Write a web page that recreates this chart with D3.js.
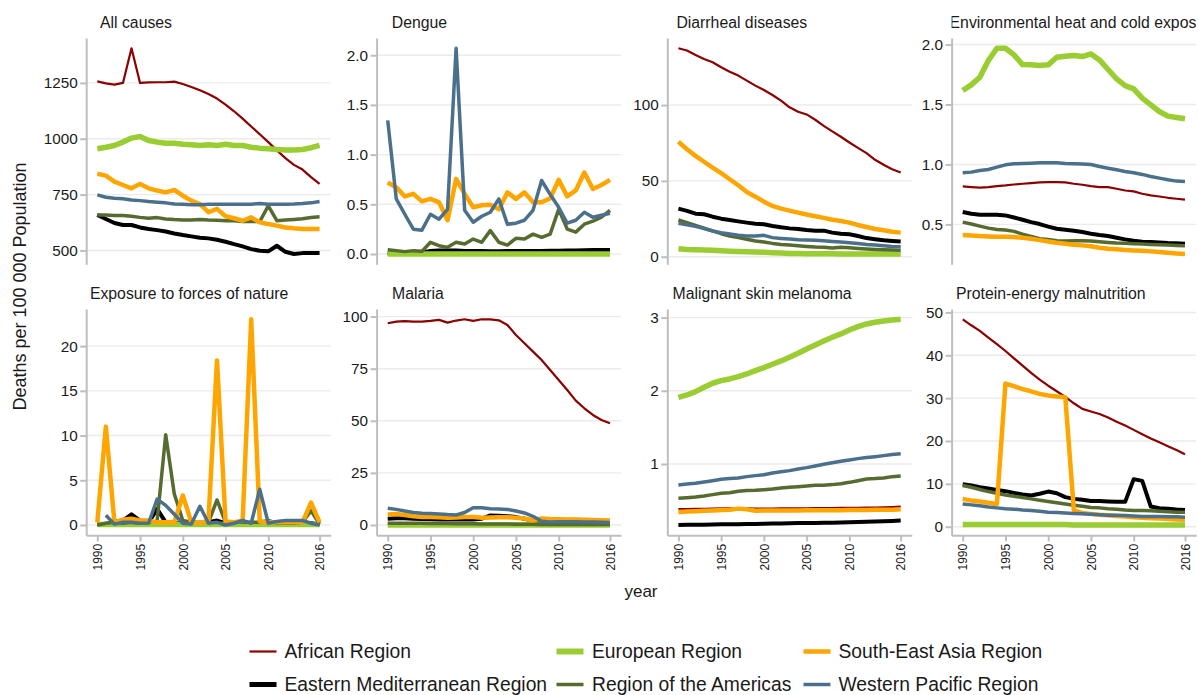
<!DOCTYPE html>
<html><head><meta charset="utf-8">
<script src="https://cdn.jsdelivr.net/npm/d3@7"></script>
<style>
body{margin:0;background:#fff}
text{font-family:"Liberation Sans",Arial,sans-serif}
</style>
</head><body>
<svg id="chart" width="1198" height="695"></svg>
<script>
// ---------- data ----------
const years = [1990,1991,1992,1993,1994,1995,1996,1997,1998,1999,2000,2001,2002,2003,2004,2005,2006,2007,2008,2009,2010,2011,2012,2013,2014,2015,2016];
const regions = ["African Region","Eastern Mediterranean Region","European Region","Region of the Americas","South-East Asia Region","Western Pacific Region"];
const causes = ["All causes","Dengue","Diarrheal diseases","Environmental heat and cold exposure","Exposure to forces of nature","Malaria","Malignant skin melanoma","Protein-energy malnutrition"];
const xTicks = [1990,1995,2000,2005,2010,2016];

const allCauses = {
  "African Region":[1257,1248,1242,1250,1405,1250,1252,1253,1253,1256,1245,1232,1217,1200,1180,1153,1123,1090,1055,1020,985,948,913,883,862,828,798],
  "Eastern Mediterranean Region":[659,641,623,614,614,603,596,591,585,576,569,563,557,554,548,539,528,518,506,499,496,521,494,484,488,488,488],
  "European Region":[955,962,970,985,1003,1010,992,985,980,980,975,973,970,973,970,975,970,970,962,958,955,952,950,950,952,960,970],
  "Region of the Americas":[659,659,656,656,653,648,644,647,641,638,636,636,638,636,635,633,633,630,629,629,700,633,636,639,642,647,651],
  "South-East Asia Region":[843,835,808,793,778,798,778,768,760,771,745,723,708,671,686,653,644,633,648,626,618,611,603,599,596,596,596],
  "Western Pacific Region":[749,738,734,731,726,723,719,716,713,708,707,705,705,707,707,707,707,707,707,710,707,707,707,708,710,713,719]
};
const dengue = {
  "African Region":[0.002,0.002,0.002,0.002,0.002,0.002,0.003,0.003,0.003,0.004,0.004,0.005,0.006,0.007,0.008,0.01,0.012,0.015,0.018,0.02,0.022,0.025,0.028,0.03,0.035,0.04,0.045],
  "Eastern Mediterranean Region":[0.005,0.006,0.008,0.01,0.015,0.03,0.035,0.035,0.035,0.03,0.03,0.03,0.028,0.028,0.03,0.03,0.03,0.03,0.03,0.032,0.032,0.035,0.035,0.038,0.04,0.04,0.04],
  "European Region":[0,0,0,0,0,0,0,0,0,0,0,0,0,0,0,0,0,0,0,0,0,0,0,0,0,0,0],
  "Region of the Americas":[0.044,0.034,0.024,0.034,0.027,0.118,0.084,0.067,0.118,0.10,0.15,0.118,0.235,0.118,0.09,0.158,0.15,0.20,0.168,0.20,0.45,0.25,0.22,0.30,0.33,0.37,0.44],
  "South-East Asia Region":[0.72,0.67,0.58,0.605,0.53,0.555,0.52,0.34,0.756,0.605,0.47,0.49,0.495,0.45,0.62,0.555,0.62,0.52,0.52,0.56,0.746,0.58,0.64,0.82,0.655,0.695,0.746],
  "Western Pacific Region":[1.345,0.555,0.40,0.25,0.24,0.40,0.35,0.45,2.07,0.44,0.32,0.38,0.42,0.555,0.30,0.31,0.34,0.44,0.74,0.60,0.47,0.31,0.34,0.42,0.37,0.39,0.41]
};
const diarrheal = {
  "African Region":[137.4,135.9,133.0,130.4,128.2,124.9,122.0,119.4,116.1,112.8,109.9,106.6,102.9,98.5,95.6,93.8,90.3,86.3,82.6,79.1,75.3,71.8,68.3,63.9,60.6,57.7,55.5],
  "Eastern Mediterranean Region":[31.7,30.2,28.4,28.0,26.4,25.1,24.2,23.3,22.5,21.8,21.4,20.3,19.4,18.7,18.3,17.6,17.2,17.2,15.9,15.2,14.8,13.7,12.3,11.5,10.8,10.4,10.1],
  "European Region":[5.3,4.8,4.6,4.4,4.2,4.0,3.7,3.5,3.3,3.1,2.9,2.6,2.4,2.2,2.2,2.0,2.0,2.0,2.0,1.8,1.8,1.8,1.8,1.8,1.8,1.8,1.8],
  "Region of the Americas":[24.2,22.5,20.7,18.9,17.0,15.2,13.7,12.6,11.5,10.4,9.7,8.8,8.1,7.7,7.3,6.8,6.4,6.2,5.7,6.2,5.9,5.5,5.1,4.8,4.6,4.4,4.2],
  "South-East Asia Region":[75.8,70.9,66.5,62.6,58.8,55.1,51.1,47.1,42.7,39.6,36.3,33.5,31.7,30.4,29.1,27.8,26.7,25.6,24.4,23.6,22.5,20.9,19.6,18.3,17.4,16.5,15.9],
  "Western Pacific Region":[22.0,21.1,20.0,18.5,17.0,15.9,15.0,14.1,13.7,13.7,14.1,12.6,12.1,11.7,11.2,11.0,10.8,10.6,10.1,9.7,9.3,8.8,8.1,7.7,7.3,6.8,6.6]
};
const heatCold = {
  "African Region":[0.817,0.811,0.806,0.811,0.819,0.825,0.833,0.839,0.844,0.85,0.853,0.853,0.85,0.839,0.831,0.819,0.811,0.811,0.797,0.783,0.775,0.756,0.742,0.733,0.722,0.714,0.706],
  "Eastern Mediterranean Region":[0.603,0.589,0.581,0.581,0.581,0.575,0.558,0.539,0.519,0.503,0.481,0.464,0.456,0.447,0.436,0.422,0.411,0.403,0.389,0.375,0.364,0.356,0.353,0.35,0.344,0.342,0.339],
  "European Region":[1.617,1.664,1.728,1.867,1.969,1.969,1.914,1.833,1.831,1.825,1.831,1.894,1.903,1.908,1.90,1.922,1.872,1.792,1.714,1.658,1.631,1.553,1.497,1.442,1.403,1.392,1.381],
  "Region of the Americas":[0.519,0.503,0.486,0.469,0.458,0.453,0.442,0.419,0.4,0.381,0.375,0.364,0.361,0.364,0.364,0.361,0.356,0.35,0.344,0.342,0.339,0.336,0.333,0.331,0.328,0.325,0.322],
  "South-East Asia Region":[0.411,0.408,0.403,0.4,0.397,0.397,0.394,0.389,0.381,0.369,0.358,0.347,0.339,0.331,0.325,0.317,0.306,0.297,0.292,0.286,0.283,0.281,0.275,0.269,0.264,0.258,0.253],
  "Western Pacific Region":[0.93,0.936,0.95,0.958,0.978,0.997,1.006,1.008,1.011,1.014,1.014,1.014,1.008,1.006,1.003,1.0,0.983,0.969,0.956,0.942,0.931,0.917,0.9,0.886,0.872,0.861,0.858]
};
const forcesNature = {
  "African Region":[0.05,0.08,0.2,0.06,0.05,0.04,0.05,0.06,0.05,0.05,0.04,0.04,0.05,0.05,0.04,0.04,0.05,0.04,0.04,0.04,0.05,0.04,0.04,0.04,0.04,0.04,0.04],
  "Eastern Mediterranean Region":[0.1,0.1,0.4,0.5,1.2,0.5,0.3,1.8,0.3,0.2,0.2,0.2,0.2,0.3,0.5,0.2,0.2,0.3,0.2,0.2,0.2,0.2,0.2,0.2,0.2,0.2,0.1],
  "European Region":[0.05,0.06,0.05,0.05,0.05,0.06,0.05,0.05,0.05,0.05,0.05,0.05,0.06,0.05,0.05,0.05,0.05,0.05,0.05,0.05,0.06,0.05,0.05,0.05,0.05,0.05,0.05],
  "Region of the Americas":[0.0,0.2,0.3,0.2,0.3,0.2,0.3,0.5,10.1,3.5,0.5,0.3,0.3,0.3,2.8,0.3,0.3,0.3,0.3,0.3,0.5,0.2,0.2,0.2,0.3,1.6,0.1],
  "South-East Asia Region":[0.3,11.0,0.3,0.6,0.7,0.5,0.5,0.3,0.3,0.3,3.3,0.3,0.2,0.5,18.4,0.4,0.3,0.5,23.0,0.4,0.3,0.3,0.3,0.3,0.3,2.5,0.3],
  "Western Pacific Region":[null,1.1,0.1,0.3,0.3,0.2,0.2,2.9,2.2,1.2,0.2,0.1,2.1,0.2,0.3,0.0,0.2,0.5,0.2,4.0,0.2,0.4,0.5,0.5,0.5,0.2,0.0]
};
const malaria = {
  "African Region":[96.8,97.6,97.8,97.6,97.6,97.9,98.4,97.1,98.1,98.7,97.9,98.7,98.7,98.2,96.0,91.2,87.2,83.2,79.2,74.4,69.6,64.8,59.7,56.0,52.8,50.4,48.8],
  "Eastern Mediterranean Region":[3.0,3.2,3.2,3.0,2.9,2.8,2.7,2.7,2.6,2.6,2.7,3.0,4.6,4.5,4.2,3.8,3.0,2.0,1.5,1.3,1.2,1.2,1.1,1.0,1.0,1.0,0.9],
  "European Region":[0,0,0,0,0,0,0,0,0,0,0,0,0,0,0,0,0,0,0,0,0,0,0,0,0,0,0],
  "Region of the Americas":[0.9,0.9,0.8,0.8,0.8,0.7,0.7,0.7,0.6,0.6,0.6,0.5,0.5,0.5,0.5,0.4,0.4,0.4,0.3,0.3,0.3,0.3,0.2,0.2,0.2,0.2,0.2],
  "South-East Asia Region":[5.0,5.3,4.8,4.2,3.9,3.8,3.7,3.5,3.6,3.9,3.8,3.5,3.6,3.7,3.7,3.5,3.1,2.2,3.1,2.9,2.8,2.7,2.6,2.5,2.4,2.3,2.2],
  "Western Pacific Region":[8.0,7.5,6.7,6.0,5.6,5.5,5.3,5.0,4.8,6.0,8.3,8.3,7.8,7.7,7.5,6.7,5.8,4.2,1.8,1.5,1.6,1.6,1.6,1.5,1.4,1.3,1.2]
};
const melanoma = {
  "African Region":[0.385,0.385,0.386,0.388,0.39,0.392,0.393,0.393,0.392,0.39,0.39,0.391,0.392,0.393,0.394,0.395,0.396,0.397,0.398,0.399,0.4,0.401,0.403,0.405,0.408,0.412,0.417],
  "Eastern Mediterranean Region":[0.166,0.168,0.169,0.170,0.172,0.175,0.176,0.178,0.180,0.181,0.183,0.186,0.188,0.190,0.192,0.194,0.195,0.197,0.198,0.200,0.203,0.206,0.209,0.213,0.218,0.222,0.226],
  "European Region":[1.911,1.943,1.989,2.048,2.103,2.139,2.162,2.194,2.23,2.276,2.317,2.362,2.408,2.458,2.513,2.572,2.626,2.681,2.731,2.777,2.831,2.877,2.913,2.936,2.954,2.968,2.977],
  "Region of the Americas":[0.531,0.54,0.549,0.563,0.581,0.599,0.608,0.626,0.636,0.64,0.649,0.658,0.672,0.681,0.69,0.699,0.708,0.708,0.718,0.731,0.749,0.772,0.795,0.8,0.809,0.827,0.836],
  "South-East Asia Region":[0.345,0.35,0.355,0.36,0.365,0.37,0.375,0.39,0.38,0.36,0.365,0.365,0.365,0.366,0.366,0.367,0.367,0.368,0.368,0.369,0.37,0.371,0.372,0.373,0.374,0.376,0.38],
  "Western Pacific Region":[0.713,0.727,0.736,0.754,0.772,0.79,0.8,0.809,0.827,0.841,0.854,0.877,0.895,0.909,0.932,0.95,0.973,0.995,1.018,1.036,1.055,1.073,1.087,1.1,1.114,1.128,1.141]
};
const proteinEnergy = {
  "African Region":[48.4,47.0,45.7,44.1,42.6,41.0,39.3,37.6,35.9,34.3,32.9,31.6,30.3,28.8,27.5,26.9,26.3,25.5,24.5,23.6,22.6,21.6,20.6,19.7,18.8,17.9,16.9],
  "Eastern Mediterranean Region":[9.9,9.6,9.2,8.9,8.6,8.3,7.9,7.5,7.3,7.7,8.2,7.8,6.9,6.5,6.3,6.0,6.0,5.9,5.8,5.8,11.1,10.7,4.7,4.3,4.2,4.0,3.9],
  "European Region":[0.5,0.5,0.5,0.5,0.5,0.5,0.5,0.5,0.5,0.5,0.5,0.5,0.5,0.4,0.4,0.4,0.4,0.4,0.4,0.4,0.4,0.4,0.4,0.4,0.4,0.4,0.4],
  "Region of the Americas":[9.6,9.2,8.7,8.2,7.8,7.4,7.1,6.8,6.5,6.2,5.9,5.6,5.3,5.0,4.8,4.5,4.4,4.2,4.1,3.9,3.8,3.8,3.7,3.6,3.5,3.4,3.4],
  "South-East Asia Region":[6.5,6.1,5.9,5.6,5.3,33.4,32.8,32.1,31.6,31.0,30.6,30.4,30.2,3.9,3.2,3.0,2.8,2.7,2.5,2.4,2.2,2.1,2.0,1.9,1.8,1.7,1.6],
  "Western Pacific Region":[5.3,5.1,4.9,4.6,4.4,4.2,4.1,3.9,3.8,3.6,3.4,3.3,3.2,3.1,3.0,2.9,2.8,2.7,2.7,2.6,2.5,2.4,2.4,2.4,2.3,2.3,2.2]
};
const panelData = [allCauses, dengue, diarrheal, heatCold, forcesNature, malaria, melanoma, proteinEnergy];
const yTickValues = [
  [500,750,1000,1250],
  [0,0.5,1,1.5,2],
  [0,50,100],
  [0.5,1,1.5,2],
  [0,5,10,15,20],
  [0,25,50,75,100],
  [1,2,3],
  [0,10,20,30,40,50]
];
const yTickFormats = ["d",".1f","d",".1f","d","d","d","d"];

// ---------- styles ----------
const colors = {"African Region":"#8B0000","Eastern Mediterranean Region":"#000000","European Region":"#9ACD32","Region of the Americas":"#556B2F","South-East Asia Region":"#FFA500","Western Pacific Region":"#4A708B"};
const widths = {"African Region":2.2,"Eastern Mediterranean Region":4,"European Region":5.5,"Region of the Americas":3.5,"South-East Asia Region":4.5,"Western Pacific Region":3.5};
const keyWidths = {"African Region":2.2,"Eastern Mediterranean Region":5,"European Region":6,"Region of the Americas":3.5,"South-East Asia Region":4.5,"Western Pacific Region":3.5};

// ---------- layout ----------
const svg = d3.select("#chart");
const panelLefts = [86.2, 376.6, 667.3, 951.6];
const panelW = 244.5;
const rowTops = [38, 309];
const panelH = 226.3;
const axisGray = "#BEBEBE";
const gridGray = "#EBEBEB";

causes.forEach((cause, i) => {
  const col = i % 4, row = Math.floor(i / 4);
  const L = panelLefts[col], T = rowTops[row];
  const data = panelData[i];
  const x = d3.scaleLinear().domain([1990 - 1.3, 2016 + 1.3]).range([L, L + panelW]);
  const all = regions.flatMap(r => data[r]).filter(v => v != null);
  const [mn, mx] = d3.extent(all);
  const pad = (mx - mn) * 0.05;
  const y = d3.scaleLinear().domain([mn - pad, mx + pad]).range([T + panelH, T]);
  const g = svg.append("g");

  // grid
  g.selectAll("line.grid").data(yTickValues[i]).enter().append("line")
    .attr("x1", L).attr("x2", L + panelW)
    .attr("y1", d => y(d)).attr("y2", d => y(d))
    .attr("stroke", gridGray).attr("stroke-width", 1.4);

  // y axis
  const ya = g.append("g").attr("transform", `translate(${L},0)`)
    .call(d3.axisLeft(y).tickValues(yTickValues[i]).tickFormat(d3.format(yTickFormats[i])).tickSize(6).tickSizeOuter(0).tickPadding(2.5));
  ya.select(".domain").attr("stroke", axisGray).attr("stroke-width", 2);
  ya.selectAll(".tick line").attr("stroke", axisGray).attr("stroke-width", 2);
  ya.selectAll(".tick text").attr("font-size", "15.3px").attr("fill", "#1a1a1a")
    .style("font-family", '"Liberation Sans",Arial,sans-serif');

  // x axis on bottom row
  if (row === 1) {
    const xa = g.append("g").attr("transform", `translate(0,${T + panelH})`)
      .call(d3.axisBottom(x).tickValues(xTicks).tickFormat(d3.format("d")).tickSize(6).tickSizeOuter(0));
    xa.select(".domain").attr("stroke", axisGray).attr("stroke-width", 2);
    xa.selectAll(".tick line").attr("stroke", axisGray).attr("stroke-width", 2);
    xa.selectAll(".tick text").attr("font-size", "12px").attr("fill", "#1a1a1a")
      .style("font-family", '"Liberation Sans",Arial,sans-serif')
      .attr("transform", "rotate(-90)").attr("text-anchor", "end")
      .attr("x", -8.5).attr("y", 0).attr("dy", "0.35em");
  }

  // lines
  const line = d3.line().defined(v => v != null).x((v, j) => x(years[j])).y(v => y(v));
  regions.forEach(r => {
    g.append("path").datum(data[r]).attr("d", line)
      .attr("fill", "none").attr("stroke", colors[r]).attr("stroke-width", widths[r])
      .attr("stroke-linejoin", "round").attr("stroke-linecap", "butt");
  });

  // title (clipped to strip)
  const clipId = "clip" + i;
  svg.append("clipPath").attr("id", clipId).append("rect")
    .attr("x", L).attr("y", T - 38).attr("width", panelW).attr("height", 38);
  const t = svg.append("text").attr("clip-path", `url(#${clipId})`)
    .attr("y", T - 10.5).attr("font-size", "15.8px").attr("fill", "#1a1a1a").text(cause);
  const tw = t.node().getComputedTextLength();
  t.attr("x", L + 0.08 * (panelW - tw));
});

// axis titles
svg.append("text").attr("transform", "translate(26,286.5) rotate(-90)")
  .attr("text-anchor", "middle").attr("font-size", "18px").attr("fill", "#1a1a1a")
  .text("Deaths per 100 000 Population");
svg.append("text").attr("x", 641).attr("y", 597).attr("text-anchor", "middle")
  .attr("font-size", "17px").attr("fill", "#1a1a1a").text("year");

// legend (filled by column: 3 columns x 2 rows)
const legKeyX = [249.5, 556.5, 803.5];
const legTextX = [284.5, 592, 838.5];
const legRowY = [651.5, 684.5];
regions.forEach((r, k) => {
  const c = Math.floor(k / 2), rw = k % 2;
  svg.append("line").attr("x1", legKeyX[c]).attr("x2", legKeyX[c] + 27)
    .attr("y1", legRowY[rw]).attr("y2", legRowY[rw])
    .attr("stroke", colors[r]).attr("stroke-width", keyWidths[r]);
  svg.append("text").attr("x", legTextX[c]).attr("y", legRowY[rw]).attr("dy", "0.34em")
    .attr("font-size", "19.3px").attr("fill", "#1a1a1a").text(r);
});
</script>
</body></html>
